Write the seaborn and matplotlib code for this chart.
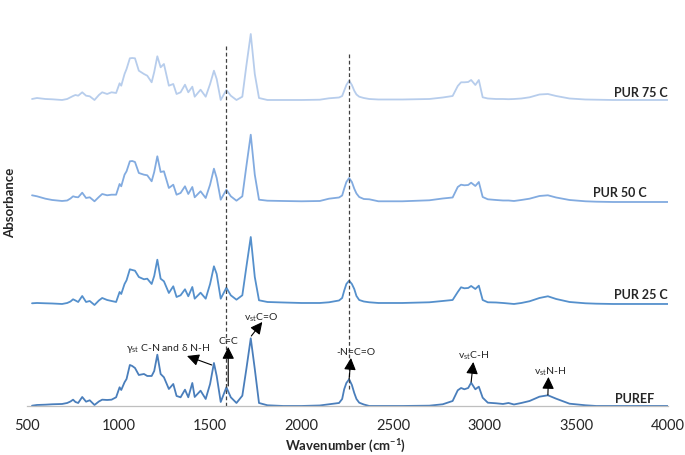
import numpy as np
import pandas as pd
import matplotlib.pyplot as plt
import seaborn as sns

sns.set_style('white')
plt.rcParams['font.family'] = ['Lato', 'DejaVu Sans']
plt.rcParams['mathtext.fontset'] = 'custom'
plt.rcParams['mathtext.rm'] = 'Lato'
plt.rcParams['mathtext.bf'] = 'Lato:bold'
plt.rcParams['mathtext.default'] = 'regular'

# wavenumbers (cm-1)
wavenumber = [529, 556, 602, 639, 693, 721, 739, 753, 766, 781, 803, 824, 844, 870, 894, 912, 939, 963, 988,
              1007, 1016, 1034, 1045, 1063, 1076, 1091, 1112, 1140, 1158, 1182, 1196, 1213, 1231, 1249, 1276,
              1300, 1318, 1340, 1364, 1382, 1404, 1417, 1449, 1477, 1501, 1522, 1537, 1559, 1590, 1614, 1645,
              1677, 1699, 1723, 1745, 1768, 1814,
              1900, 2000, 2100, 2150, 2205, 2222, 2233, 2245, 2260, 2275, 2288, 2300, 2315, 2340, 2370, 2420,
              2550, 2698, 2771, 2825, 2853, 2871, 2889, 2910, 2926, 2949, 2968, 2989, 3017, 3062, 3100, 3130,
              3160, 3200, 3245, 3299, 3345, 3390, 3463, 3550, 3609, 3700, 3800, 3900, 4000]

# absorbance (a.u.) of each sample, before stacking
puref = [0.3, 1, 1.3, 1.7, 2, 3, 4.5, 6.3, 4, 3, 9, 4.3, 5.7, 1, 4.5, 6.3, 6, 6.3, 8.7,
         18.7, 16, 23.7, 27, 41, 40, 38, 31, 32, 30, 30, 35, 51.3, 32, 28.7, 17,
         22, 10, 8.7, 16.3, 8.7, 23, 9, 15.3, 7, 22, 43, 30, 4, 18.7, 8.7, 3,
         10.3, 37, 67.7, 37, 3, 0.7,
         0, 0, 0.5, 1.7, 3, 7, 16.7, 23, 26.7, 21, 13, 7, 3.3, 1.5, 0, 0,
         0, 0.3, 1.7, 5, 15.7, 18, 16.7, 18, 23.3, 16.7, 19.3, 8.3, 3.3, 2.7, 2, 3,
         1.5, 3, 5, 9.3, 10.7, 7.3, 2.3, 0.7, 0, 0, 0, 0, 0]
pur25 = [0.7, 1, 0.7, 0.5, 0, 1, 2.5, 4.7, 3.5, 2, 8, 2, 3, -1, 3.5, 6, 4, 3, 2,
         12, 10, 20, 23.7, 34.7, 34, 33.3, 27, 24.7, 25.3, 20, 28, 44.3, 25.3, 22.7, 11,
         17.7, 7, 8.7, 14.7, 7.7, 17, 5.3, 11.3, 5.3, 20, 37.7, 30, 5.3, 16.3, 8.7, 4.3,
         8.7, 37, 67, 27, 3.7, 2,
         1.5, 1, 1, 1.7, 3.5, 6, 13.3, 20, 23.3, 20, 15, 8, 4, 2.5, 1.7, 1,
         1, 1.7, 3, 4, 12, 16.7, 15.7, 16, 18, 15, 18.3, 4, 1.7, 1.5, 1, 0.5,
         0, 1, 2.7, 6, 7.7, 5, 2, 0.7, 0.3, 0, 0, 0, 0]
pur50 = [6.7, 5.7, 3.3, 2, 1, 1.5, 3.5, 5.7, 5, 4.7, 9.3, 4, 4.7, 0.7, 5, 8, 6.7, 7.3, 7.3,
         18, 15.7, 27.3, 30.7, 40.7, 41, 40, 29, 27.3, 26.7, 20.7, 30, 45.7, 30, 30.7, 14,
         17.3, 7.3, 9, 15.7, 8, 15, 4.7, 10.7, 4, 17.3, 33.3, 24, 2.3, 12.3, 5.7, 1.3,
         5.7, 35.7, 67.3, 27.3, 2.3, 1.3,
         1, 0.7, 1, 3.3, 4.5, 6.5, 13.3, 20, 24, 20, 13.3, 8.5, 5, 3, 2.7, 0.7,
         0.7, 1.7, 3.5, 4.5, 15, 17.3, 16.7, 17, 19.3, 16, 20, 5, 2.7, 2, 1.5, 1.5,
         1, 2, 3.3, 6, 6.7, 4.5, 2, 0.7, 0.3, 0, 0, 0, 0]
pur75 = [1, 2, 1, 0.7, 0, 1, 2.7, 4, 5, 4.3, 7.7, 4.3, 3.7, 0, 5, 7.7, 6, 7.7, 7,
         16.7, 14.3, 26, 31, 41.7, 42, 41.7, 29.3, 26, 24.3, 17.7, 28, 43.7, 32.7, 36, 14.3,
         16, 6, 7.7, 15.3, 7.7, 13.3, 3.3, 10.3, 3.3, 16, 29.3, 21, 0, 10, 4.3, 0,
         3.3, 34.3, 66, 26, 2, 0,
         0, 0, 0.3, 1.7, 2.5, 4, 9.3, 15, 19.3, 15, 9.3, 5.5, 3.3, 2, 1, 0.5,
         0.5, 1, 2.5, 4, 14, 17.7, 17.7, 18, 20, 15, 20, 2.7, 1.5, 1, 1, 0.8,
         1, 1.5, 2.7, 5.5, 6, 4, 1.5, 0.5, 0.3, 0, 0, 0, 0]

samples = ['PUREF', 'PUR 25 C', 'PUR 50 C', 'PUR 75 C']
offsets = [0, 102, 204, 306]
colors = ['#4a7ebb', '#5590cc', '#82abe0', '#b7cdec']

frames = []
for name, vals, off in zip(samples, [puref, pur25, pur50, pur75], offsets):
    frames.append(pd.DataFrame({'Wavenumber': wavenumber,
                                'Absorbance': np.array(vals) + off,
                                'Sample': name}))
df = pd.concat(frames, ignore_index=True)

fig = plt.figure(figsize=(6.85, 4.56), dpi=100)
ax = fig.add_axes([0.039, 0.1075, 0.936, 0.8925])

sns.lineplot(data=df, x='Wavenumber', y='Absorbance', hue='Sample', hue_order=samples,
             palette=colors, linewidth=1.3, legend=False, estimator=None, sort=False, ax=ax)

ax.set_xlim(500, 4000)
ax.set_ylim(0, 407)
ax.set_xticks(range(500, 4001, 500))
ax.set_yticks([])
ax.tick_params(axis='x', length=0, pad=9, labelsize=10.5)
ax.set_xlabel('')
ax.set_ylabel('')
for s in ['top', 'right', 'left']:
    ax.spines[s].set_visible(False)
ax.spines['bottom'].set_color('#bfbfbf')
ax.spines['bottom'].set_linewidth(0.9)

# sample labels
label_pos = [(3928, 8), (4000, 112), (3884, 214), (4000, 314)]
for name, (lx, ly) in zip(samples, label_pos):
    ax.text(lx, ly, name, ha='right', va='center', fontsize=9, fontweight='bold')

# dashed guide lines
ax.vlines(1586, 0, 361, colors='#404040', linestyles=(0, (3, 2)), linewidth=0.9)
ax.vlines(2260, 17, 353, colors='#404040', linestyles=(0, (3, 2)), linewidth=0.9)

# peak assignments
arrow_kw = dict(arrowstyle='-|>,head_length=0.6,head_width=0.3', color='black', lw=0.8,
                mutation_scale=12, shrinkA=0, shrinkB=0)
notes = [
    ('γ$_{st}$ C-N and δ N-H', (1271, 58), (1510, 41), (1375, 50)),
    ('C=C', (1600, 65), (1600, 20), (1600, 59)),
    ('v$_{st}$C=O', (1779, 89), (1726, 70), (1786, 84)),
    ('-N=C=O', (2297, 54), (2260, 27), (2270, 48)),
    ('v$_{st}$C-H', (2941, 51), (2926, 24), (2938, 44)),
    ('v$_{st}$N-H', (3358, 35), (3345, 11), (3348, 29)),
]
for txt, tpos, start, head in notes:
    ax.annotate('', xy=head, xytext=start, arrowprops=arrow_kw)
    ax.text(tpos[0], tpos[1], txt, ha='center', va='center', fontsize=7.5)

fig.text(345 / 685, 1 - 446 / 456, 'Wavenumber (cm$^{\\mathbf{-1}}$)', ha='center', va='center',
         fontsize=9.5, fontweight='bold')
fig.text(10 / 685, 1 - 203 / 456, 'Absorbance', ha='center', va='center', rotation=90,
         fontsize=9.5, fontweight='bold')

fig.savefig('out.png', dpi=100, facecolor='white')
